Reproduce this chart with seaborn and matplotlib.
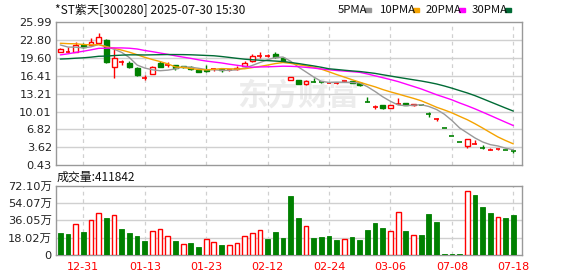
import numpy as np
import pandas as pd
import matplotlib
matplotlib.use("Agg")
import matplotlib.pyplot as plt
import seaborn as sns

# ---------------- data ----------------
title = "*ST紫天[300280] 2025-07-30 15:30"
dates = ["12-26", "12-27", "12-30", "12-31", "01-02", "01-03", "01-06", "01-07", "01-08", "01-09",
         "01-10", "01-13", "01-14", "01-15", "01-16", "01-17", "01-20", "01-21", "01-22", "01-23",
         "01-24", "01-27", "02-05", "02-06", "02-07", "02-10", "02-11", "02-12", "02-13", "02-14",
         "02-17", "02-18", "02-19", "02-20", "02-21", "02-24", "02-25", "02-26", "02-27", "02-28",
         "03-03", "03-04", "03-05", "03-06", "03-07", "03-10", "03-11", "03-12", "03-13", "03-14",
         "07-07", "07-08", "07-09", "07-10", "07-11", "07-14", "07-15", "07-16", "07-17", "07-18"]
opens = [20.70, 20.65, 20.70, 21.90, 21.90, 22.20, 22.77, 18.00, 18.75, 18.60,
         17.70, 16.05, 16.70, 18.70, 18.35, 18.30, 18.10, 18.00, 17.40, 17.40,
         17.50, 17.55, 17.35, 17.55, 18.20, 19.05, 19.90, 19.90, 20.20, 19.50,
         15.62, 15.60, 14.95, 15.35, 15.25, 15.10, 15.05, 15.40, 15.45, 15.15,
         11.80, 10.80, 11.15, 10.70, 11.40, 11.50, 11.10, 11.20, 9.60, 8.75,
         7.02, 5.62, 4.50, 3.83, 4.30, 3.45, 3.22, 3.25, 3.13, 3.05]
highs = [21.30, 21.50, 22.45, 22.20, 23.10, 24.10, 22.90, 21.10, 19.30, 19.00,
         17.90, 16.50, 18.10, 19.00, 18.90, 18.30, 18.20, 18.10, 17.50, 18.30,
         17.80, 17.80, 17.60, 18.10, 19.00, 20.20, 20.60, 20.30, 20.60, 19.80,
         16.20, 15.70, 15.60, 16.00, 15.30, 15.20, 15.20, 15.50, 15.50, 15.20,
         12.60, 11.25, 11.20, 11.20, 12.46, 11.55, 11.40, 11.25, 9.96, 8.80,
         7.02, 5.62, 4.50, 5.20, 4.90, 4.00, 3.50, 3.32, 3.14, 3.20]
lows = [20.60, 20.60, 20.70, 21.40, 21.90, 22.20, 18.70, 16.00, 18.40, 17.80,
        16.40, 15.60, 16.70, 17.90, 18.00, 17.50, 17.80, 17.45, 17.00, 17.10,
        17.30, 17.10, 17.30, 17.50, 18.20, 18.90, 19.60, 19.70, 19.60, 19.00,
        15.60, 14.85, 14.70, 15.25, 15.15, 15.05, 15.00, 15.35, 15.10, 14.60,
        11.78, 10.55, 10.40, 10.65, 11.40, 11.10, 11.00, 11.10, 9.10, 8.30,
        7.02, 5.62, 4.50, 3.60, 4.30, 3.42, 3.20, 3.10, 3.10, 2.70]
closes = [21.10, 20.70, 21.90, 21.60, 22.50, 23.25, 18.78, 19.50, 18.80, 17.90,
          16.60, 16.10, 17.90, 18.00, 18.40, 17.75, 17.90, 17.55, 17.10, 17.20,
          17.60, 17.40, 17.45, 17.80, 18.70, 19.85, 20.00, 19.95, 19.80, 19.10,
          16.10, 14.90, 15.50, 15.30, 15.20, 15.15, 15.10, 15.45, 15.15, 14.73,
          11.78, 10.85, 10.70, 11.15, 11.45, 11.15, 11.30, 11.15, 9.55, 8.78,
          7.02, 5.62, 4.50, 5.11, 4.31, 3.42, 3.24, 3.30, 3.11, 2.93]
# closes of the 29 sessions before the window (only feed the moving averages)
closes_before = [19.0, 19.2, 19.4, 19.0, 18.6, 17.6, 16.8, 16.5, 16.4, 16.6,
                 16.8, 17.0, 17.3, 17.6, 17.9, 18.2, 18.5, 18.8, 19.0, 19.3,
                 21.4, 22.2, 22.8, 23.2, 22.9, 22.6, 22.0, 22.2, 21.6]
volumes = [23.1, 22.0, 32.2, 24.1, 36.4, 43.7, 38.8, 41.6, 27.3, 23.1,
           19.9, 14.7, 24.8, 26.9, 19.6, 14.7, 11.2, 12.6, 8.4, 16.4,
           13.3, 10.5, 10.1, 12.2, 19.6, 22.7, 25.9, 16.4, 24.1, 17.8,
           61.6, 38.8, 30.1, 17.8, 18.5, 19.9, 15.7, 16.4, 18.9, 15.7,
           25.9, 33.6, 28.3, 24.8, 44.8, 24.8, 20.6, 20.6, 43.0, 34.6,
           0.7, 0.7, 0.7, 66.8, 63.0, 50.0, 44.1, 39.5, 38.5, 41.18]  # 万股
last_volume = 411842
ma_periods = [5, 10, 20, 30]
ma_labels = ["5PMA", "10PMA", "20PMA", "30PMA"]
ma_colors = ["#999999", "#f5a300", "#ff00ff", "#006b35"]
tick_dates = ["12-31", "01-13", "01-23", "02-12", "02-24", "03-06", "07-08", "07-18"]
price_ticks = [0.43, 3.62, 6.82, 10.01, 13.21, 16.41, 19.60, 22.80, 25.99]
vol_ticks = [0, 18.02, 36.05, 54.07, 72.10]
vol_tick_labels = ["0", "18.02万", "36.05万", "54.07万", "72.10万"]

# ---------------- styling ----------------
RED = "#ff0000"
GREEN = "#008000"
GRID = "#d0d0d0"
FRAME = "#999999"
CJK = ["Noto Sans CJK SC", "DejaVu Sans"]

sns.set_style("white")
plt.rcParams["font.family"] = ["DejaVu Sans", "Noto Sans CJK SC"]

W, H = 578, 276
fig = plt.figure(figsize=(W / 100, H / 100), dpi=100)


def px_axes(l, t, r, b):
    return fig.add_axes([l / W, 1 - b / H, (r - l) / W, (b - t) / H])


ax = px_axes(56, 22, 522, 165.3)
axv = px_axes(56, 186, 522, 254.7)

n = len(closes)
idx = np.arange(n)
df = pd.DataFrame({"i": idx, "date": dates, "open": opens, "high": highs,
                   "low": lows, "close": closes, "volume": volumes})
all_close = pd.Series(closes_before + closes)
prev_close = all_close.shift(1).iloc[len(closes_before):].to_numpy()
df["vol_up"] = df["close"].to_numpy() >= prev_close
for p, lab in zip(ma_periods, ma_labels):
    df[lab] = all_close.rolling(p).mean().iloc[len(closes_before):].to_numpy()

xlim = (-0.56, 60.13)
tick_pos = [dates.index(d) for d in tick_dates]

for a in (ax, axv):
    a.set_xlim(*xlim)
    for s in a.spines.values():
        s.set_color(FRAME)
        s.set_linewidth(1.0)
    a.tick_params(length=0, pad=3)
    for tp in tick_pos:
        a.axvline(tp, color=GRID, lw=0.9, ls=(0, (3, 3)), zorder=0)

# watermark
ax.text(23.0, 12.9, "东方财富", fontsize=22, color="#ececec", fontweight="bold",
        family=CJK, va="center", ha="left", zorder=0)

# price panel
ax.set_ylim(price_ticks[0], price_ticks[-1])
ax.set_yticks(price_ticks)
ax.set_yticklabels([f"{t:.2f}" for t in price_ticks], fontsize=8.2, color="#222222")
for t in price_ticks[1:-1]:
    ax.axhline(t, color=GRID, lw=1.0, zorder=0)
ax.set_xticks([])

bw = 0.64
for r in df.itertuples():
    if r.close > r.open:
        col, up = RED, True
    elif r.close < r.open:
        col, up = GREEN, False
    else:
        up = bool(r.vol_up)
        col = RED if up else GREEN
    ax.vlines(r.i, r.low, r.high, color=col, lw=1.0, zorder=2)
    lo, hi = min(r.open, r.close), max(r.open, r.close)
    if hi - lo < 0.15:
        ax.hlines((lo + hi) / 2, r.i - bw / 2, r.i + bw / 2, color=col, lw=1.2, zorder=3)
    else:
        ax.bar(r.i, hi - lo, bottom=lo, width=bw,
               facecolor="white" if up else col, edgecolor=col, lw=1.0, zorder=3)

for lab, c in zip(ma_labels, ma_colors):
    sns.lineplot(data=df, x="i", y=lab, ax=ax, color=c, lw=1.0, zorder=4, legend=False)
ax.set_xlabel("")
ax.set_ylabel("")
ax.set_xlim(*xlim)

# volume panel
axv.set_ylim(vol_ticks[0], vol_ticks[-1])
axv.set_yticks(vol_ticks)
axv.set_yticklabels(vol_tick_labels, fontsize=8.2, color="#222222")
for t in vol_ticks[1:-1]:
    axv.axhline(t, color=GRID, lw=1.0, zorder=0)
vw = 0.62
for r in df.itertuples():
    if r.vol_up:
        axv.bar(r.i, r.volume, width=vw, facecolor="white", edgecolor=RED, lw=1.0, zorder=3)
    else:
        axv.bar(r.i, r.volume, width=vw, facecolor=GREEN, edgecolor=GREEN, lw=0.6, zorder=3)
axv.set_xticks(tick_pos)
axv.set_xticklabels(tick_dates, fontsize=8.0, color=RED)
axv.tick_params(axis="x", pad=5)

# texts
fig.text(55 / W, 1 - 10 / H, title, fontsize=8.7, family=CJK, va="center", ha="left", color="#111111")
fig.text(57 / W, 1 - 177 / H, f"成交量:{last_volume}", fontsize=8.6, family=CJK,
         va="center", ha="left", color="#111111")
leg_x = [338, 380, 426, 472]
for lx, lab in zip(leg_x, ma_labels):
    fig.text(lx / W, 1 - 10 / H, lab, fontsize=8.2, family=CJK, va="center", ha="left", color="#111111")
mk_x = [368, 416, 462, 508]
for mx, c in zip(mk_x, ma_colors):
    fig.patches.append(plt.Rectangle(((mx - 3) / W, 1 - 11.5 / H), 6 / W, 3 / H,
                                     transform=fig.transFigure, color=c, figure=fig))

fig.savefig("out.png", dpi=100)
